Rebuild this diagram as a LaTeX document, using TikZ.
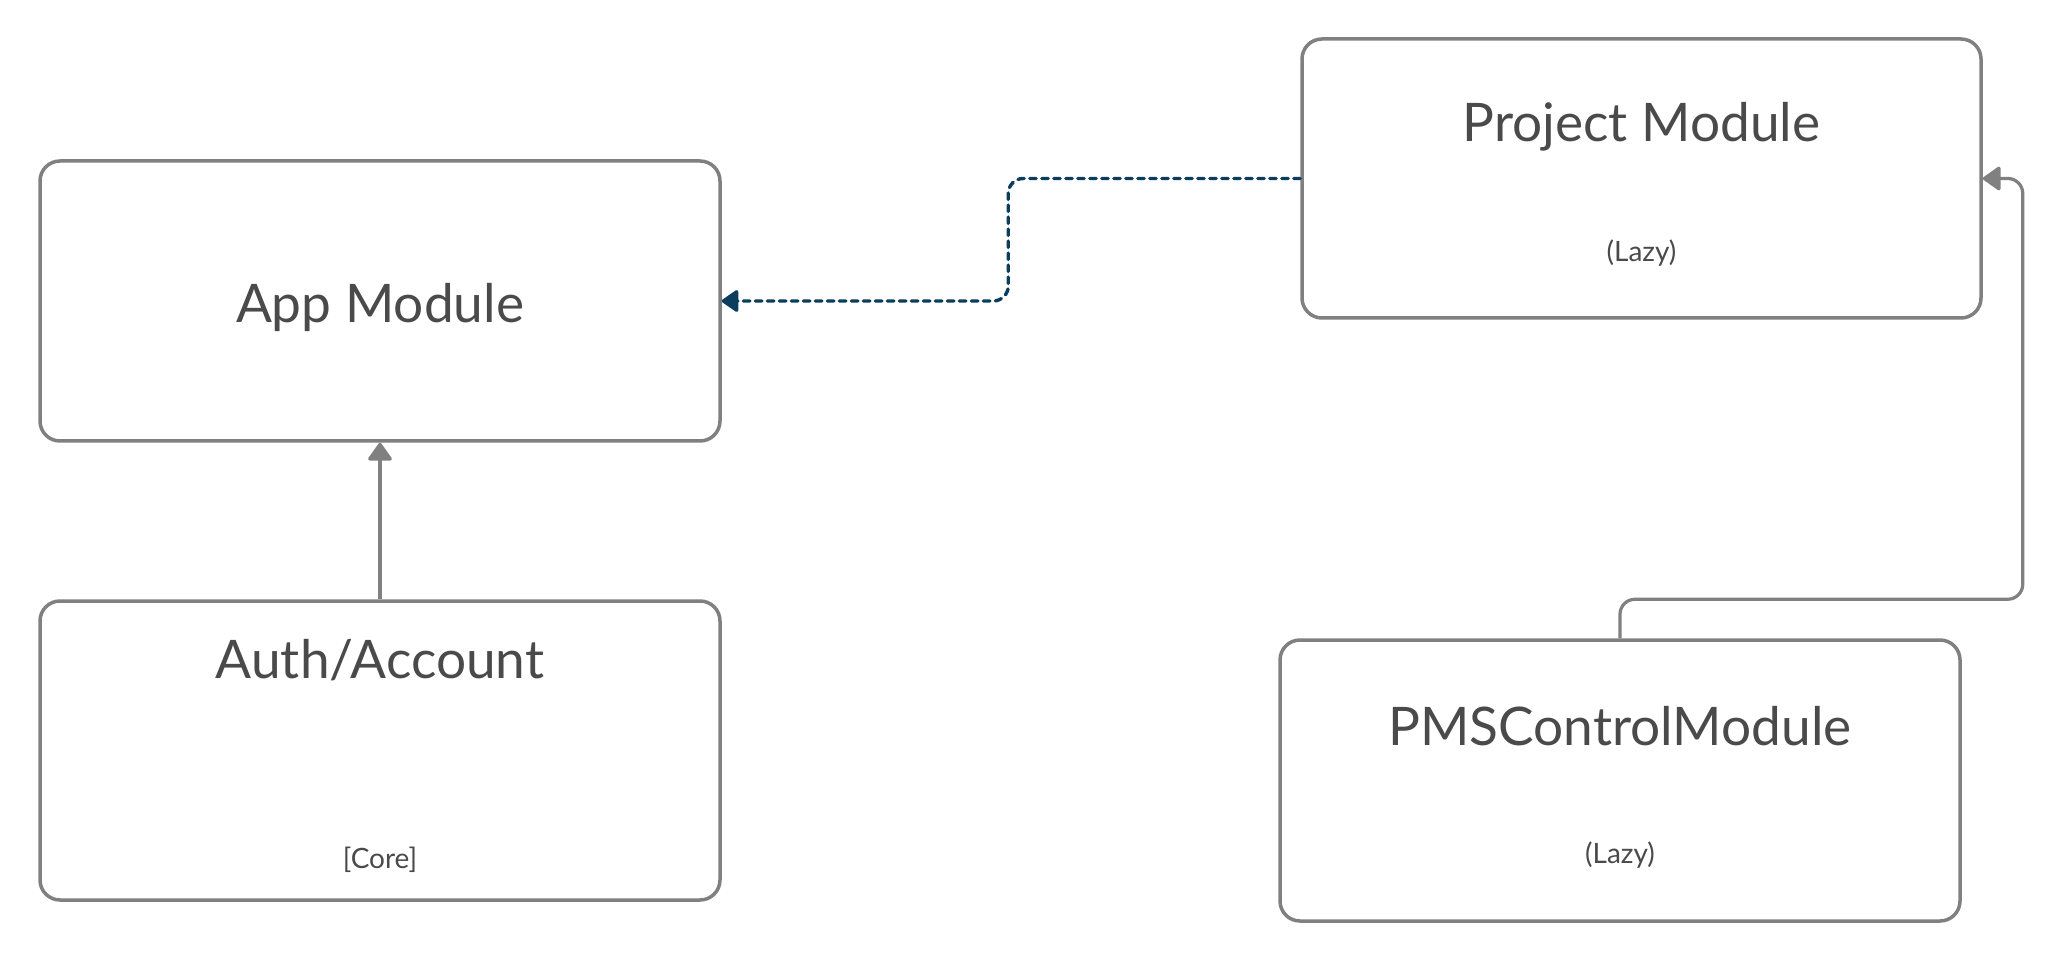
\documentclass[tikz,border=0pt]{standalone}
\usepackage{fontspec}
\setmainfont{Lato}
\usepackage{tikz}
\usetikzlibrary{positioning, calc, arrows.meta}

\definecolor{boxgrey}{HTML}{808080}
\definecolor{textgrey}{HTML}{4A4A4A}
\definecolor{depblue}{HTML}{0B3D5C}

\begin{document}
\begin{tikzpicture}[x=0.5pt, y=-0.5pt,
    modbox/.style = {draw=boxgrey, line width=1.75pt, rounded corners=10pt,
                     minimum width=340pt, inner sep=0pt},
    modname/.style = {text=textgrey, anchor=base, inner sep=0pt,
                      font=\fontsize{26.6pt}{32pt}\selectfont},
    modtag/.style = {text=textgrey, anchor=base, inner sep=0pt,
                     font=\fontsize{14pt}{17pt}\selectfont},
    implink/.style = {draw=boxgrey, line width=1.6pt, rounded corners=7.5pt,
                      -{Triangle[length=9.5pt, width=13pt, round]}},
    deplink/.style = {draw=depblue, line width=1.7pt, rounded corners=7.5pt,
                      line cap=round, dash pattern=on 3.2pt off 2.8pt,
                      -{Triangle[length=9pt, width=12pt, round]}}]
      \useasboundingbox (0,0) rectangle (2062,962);

      % modules
      \node[modbox, minimum height=140pt] at (380,301) (app) {};
      \node[modbox, minimum height=149.5pt] at (380,750.5) (auth) {};
      \node[modbox, minimum width=339.5pt, minimum height=139.5pt] at (1641.5,178.5) (proj) {};
      \node[modbox, minimum height=140.5pt] at (1620,780.5) (pms) {};

      % labels
      \node[modname] at ([yshift=-11pt]app.center) (appname) {App Module};
      \node[modname] at ([yshift=-39.5pt]auth.north) (authname) {Auth/Account};
      \node[modtag] at ([yshift=-134.5pt]auth.north) (authtag) {[Core]};
      \node[modname] at ([yshift=-52pt]proj.north) (projname) {Project Module};
      \node[modtag] at ([yshift=-112pt]proj.north) (projtag) {(Lazy)};
      \node[modname] at ([yshift=-53.5pt]pms.north) (pmsname) {PMSControlModule};
      \node[modtag] at ([yshift=-112.5pt]pms.north) (pmstag) {(Lazy)};

      % links
      \draw[implink] (auth.north) -- (app.south);
      \draw[deplink] (proj.west) -- ++(-146pt,0) |- (app.east);
      \draw[implink] (pms.north) -- ++(0,19.5pt) -| ([xshift=20pt]proj.east) -- (proj.east);
\end{tikzpicture}
\end{document}
